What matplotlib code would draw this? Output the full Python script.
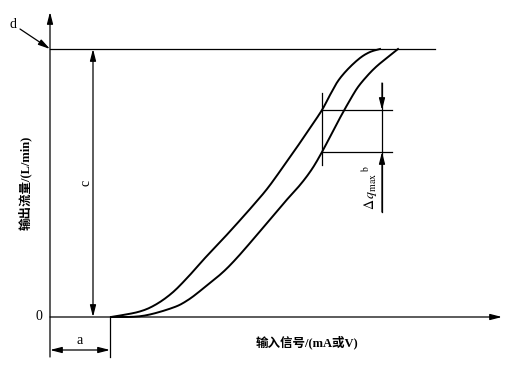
import numpy as np
import matplotlib
matplotlib.use("Agg")
import matplotlib.pyplot as plt

plt.rcParams['font.family'] = ['Liberation Serif', 'Noto Sans CJK SC', 'DejaVu Sans']
plt.rcParams['mathtext.fontset'] = 'stix'

# curves (input signal, output flow), arbitrary units
left_x = [61, 88, 105, 122, 138, 155, 172, 183, 200, 217, 233, 245, 260, 272, 280, 288, 298, 310, 320, 330]
left_q = [0, 5, 12, 24, 40, 59, 77, 89, 108, 128, 150, 167, 189, 207, 222, 236, 248, 259, 265, 268]
right_x = [61, 92, 122, 138, 155, 172, 185, 200, 217, 233, 250, 262, 272, 282, 291, 300, 308, 318, 327, 338, 348]
right_q = [0, 1, 9, 17, 30, 44, 57, 74, 94, 113, 132, 148, 165, 184, 201, 217, 230, 242, 251, 260, 268]

q_full = 268      # rated flow
dead_band = 61    # a
x_check = 272     # where the hysteresis is measured
x_end = 385

xlabel = '输入信号/(mA或V)'
ylabel = '输出流量/(L/min)'


def smooth(xs, ys, n=12):
    # catmull-rom through the read points, just so the line is not jagged
    p = np.column_stack([xs, ys]).astype(float)
    p = np.vstack([p[0], p, p[-1]])
    out = []
    t = np.linspace(0, 1, n, endpoint=False)[:, None]
    for i in range(1, len(p) - 2):
        p0, p1, p2, p3 = p[i - 1], p[i], p[i + 1], p[i + 2]
        seg = 0.5 * ((2 * p1) + (-p0 + p2) * t + (2 * p0 - 5 * p1 + 4 * p2 - p3) * t**2
                     + (-p0 + 3 * p1 - 3 * p2 + p3) * t**3)
        out.append(seg)
    out.append(p[-2][None, :])
    out = np.vstack(out)
    return out[:, 0], out[:, 1]


fig = plt.figure(figsize=(5.13, 3.71), dpi=100)
ax = fig.add_axes([0, 0, 1, 1])
ax.set_xlim(-50, 463)
ax.set_ylim(-54, 317)
ax.axis('off')

k = dict(color='k', lw=0.9)
head = dict(arrowstyle='-|>,head_length=0.7,head_width=0.18', color='k', lw=0.9,
            mutation_scale=10, shrinkA=0, shrinkB=0)
dbl = dict(arrowstyle='<|-|>,head_length=0.7,head_width=0.18', color='k', lw=0.9,
           mutation_scale=10, shrinkA=0, shrinkB=0)

# axes
ax.annotate('', xy=(0, 305), xytext=(0, -40), arrowprops=head)
ax.annotate('', xy=(452, 0), xytext=(0, 0), arrowprops=head)
ax.plot([0, x_end], [q_full, q_full], **k)

# curves
ax.plot(*smooth(left_x, left_q), color='k', lw=1.4)
ax.plot(*smooth(right_x, right_q), color='k', lw=1.4)

# c: rated flow
ax.annotate('', xy=(43, q_full), xytext=(43, 0), arrowprops=dbl)
ax.text(36, q_full / 2, 'c', rotation=90, ha='center', va='center', fontsize=10)

# a: dead band
ax.plot([dead_band - 1, dead_band - 1], [0, -40], **k)
ax.annotate('', xy=(dead_band - 1, -33), xytext=(0, -33), arrowprops=dbl)
ax.text(30, -23, 'a', ha='center', va='center', fontsize=10)

# d
ax.annotate('', xy=(0, q_full), xytext=(-30, 288), arrowprops=head)
ax.text(-37, 293, 'd', ha='center', va='center', fontsize=10)

ax.text(-8, 0, '0', ha='right', va='center', fontsize=10)

# hysteresis
q_hi = np.interp(x_check, left_x, left_q)
q_lo = np.interp(x_check, right_x, right_q)
ax.plot([x_check, x_check], [q_lo - 13, q_hi + 17], **k)
ax.plot([x_check, 342], [q_hi, q_hi], **k)
ax.plot([x_check, 342], [q_lo, q_lo], **k)
ax.plot([332, 332], [105, 234], **k)
ax.annotate('', xy=(332, q_hi), xytext=(332, 234), arrowprops=head)
ax.annotate('', xy=(332, q_lo), xytext=(332, 105), arrowprops=head)
ax.text(320, 130, r'$\Delta\,q_{\mathrm{max}}\;^{\mathrm{b}}$', rotation=90,
        ha='center', va='center', fontsize=10)

ax.text(257, -25, xlabel, ha='center', va='center', fontsize=9, fontweight='bold')
ax.text(-25, 134, ylabel, rotation=90, ha='center', va='center', fontsize=9, fontweight='bold')

fig.savefig('out.png', dpi=100)
